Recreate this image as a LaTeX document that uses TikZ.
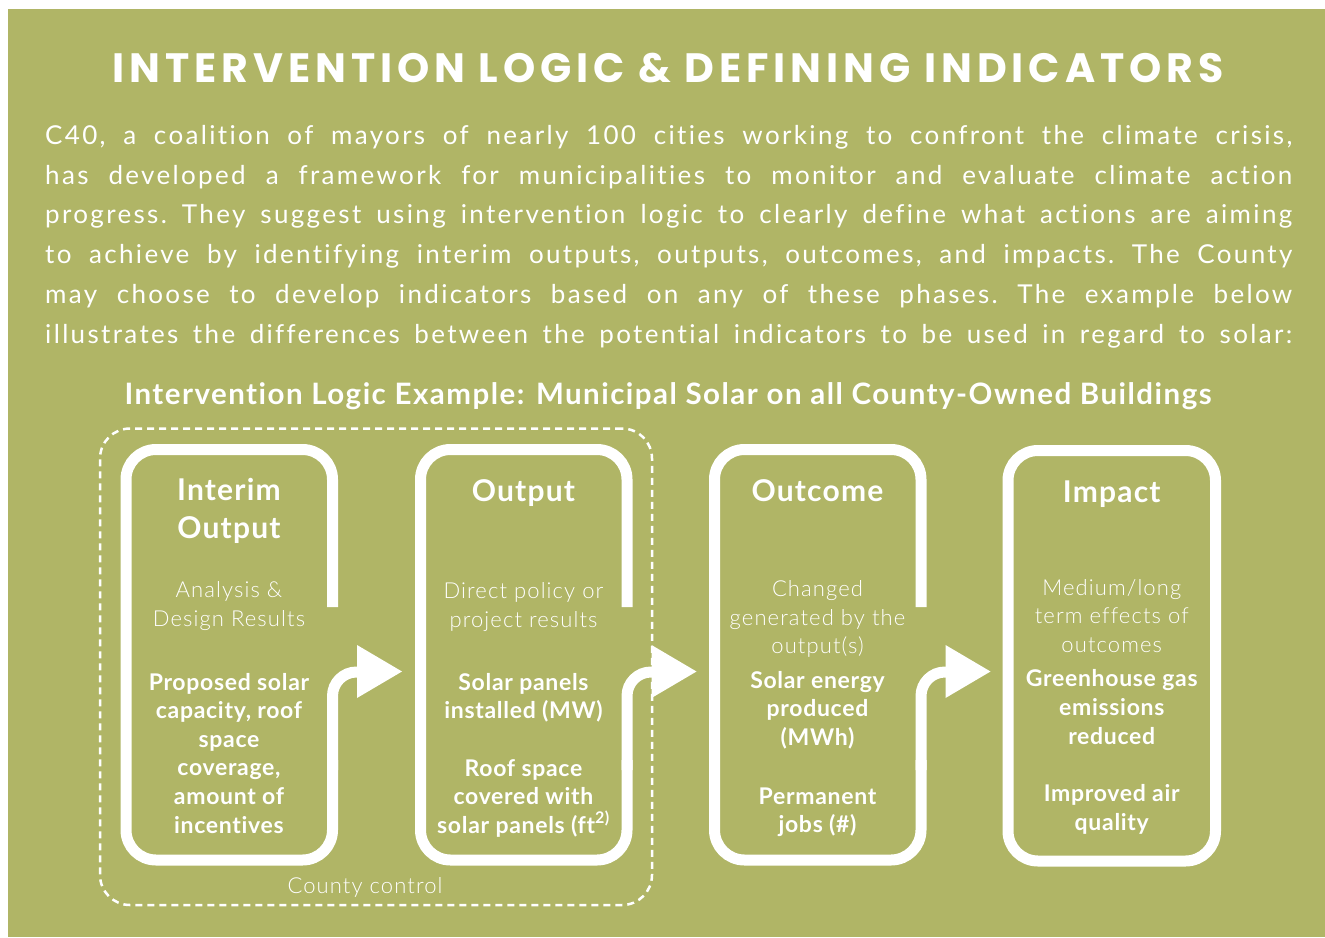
\documentclass[tikz,border=0pt]{standalone}
\usepackage{fontspec}
\setmainfont{Lato}[Ligatures=NoCommon]
\newfontfamily\lightfont{Lato Light}[LetterSpace=5,Ligatures=NoCommon]
\newfontfamily\titlefont{Poppins}[LetterSpace=12]
\newfontfamily\bodyfont{Lato}[LetterSpace=9,Ligatures=NoCommon]
\newfontfamily\subfont{Lato}[LetterSpace=5,Ligatures=NoCommon]
\newfontfamily\headfont{Lato}[LetterSpace=4,Ligatures=NoCommon]
\newfontfamily\bfont{Lato}[LetterSpace=3,Ligatures=NoCommon]
\definecolor{bggreen}{RGB}{176,181,102}
\tikzset{
  boxline/.style={draw=white, line width=11pt},
  bodyline/.style={anchor=base west, inner sep=0pt, text=white, font=\bodyfont\frenchspacing\fontsize{26}{30}\selectfont},
  boxhead/.style={anchor=base, inner sep=0pt, text=white, font=\headfont\bfseries\fontsize{30}{34}\selectfont},
  boxlight/.style={anchor=base, inner sep=0pt, text=white, font=\lightfont\fontsize{22}{25}\selectfont},
  boxbold/.style={anchor=base, inner sep=0pt, text=white, font=\bfont\bfseries\fontsize{23}{26}\selectfont},
}
\newcommand\tl[5]{\node[#4] (#1) at (#2,#3) {#5};}
\begin{document}
\begin{tikzpicture}[x=1pt,y=-1pt]
\useasboundingbox (0,0) rectangle (1325,937);
\fill[bggreen] (8,9) rectangle (1325,937);

% title
\node[anchor=base, inner sep=0pt, text=white, font=\titlefont\bfseries\fontsize{41}{48}\selectfont] (title) at (668,82) {INTERVENTION LOGIC \& DEFINING INDICATORS};

% paragraph
\tl{p1}{45}{144}{bodyline}{\makebox[1247pt][s]{C40, a coalition of mayors of nearly 100 cities working to confront the climate crisis,}}
\tl{p2}{45}{184}{bodyline}{\makebox[1247pt][s]{has developed a framework for municipalities to monitor and evaluate climate action}}
\tl{p3}{45}{223.5}{bodyline}{\makebox[1247pt][s]{progress. They suggest using intervention logic to clearly define what actions are aiming}}
\tl{p4}{45}{263}{bodyline}{\makebox[1247pt][s]{to achieve by identifying interim outputs, outputs, outcomes, and impacts. The County}}
\tl{p5}{45}{303}{bodyline}{\makebox[1247pt][s]{may choose to develop indicators based on any of these phases. The example below}}
\tl{p6}{45}{343}{bodyline}{\makebox[1247pt][s]{illustrates the differences between the potential indicators to be used in regard to solar:}}

% subtitle
\node[anchor=base, inner sep=0pt, text=white, font=\subfont\bfseries\fontsize{29.5}{34}\selectfont] (sub) at (668,404) {Intervention Logic Example: Municipal Solar on all County-Owned Buildings};

% dashed county-control frame
\node[draw=white, line width=2.5pt, dash pattern=on 7pt off 5pt, rounded corners=30pt, minimum width=552pt, minimum height=476.5pt, inner sep=0pt] (ctl) at (376,666.75) {};
\node[anchor=base, inner sep=0pt, text=white, font=\lightfont\fontsize{22}{25}\selectfont] (ctllabel) at (365,893) {County control};

% boxes 1-3 with open right side and arrow
\foreach \L [count=\i] in {126,420.5,714.5} {
  \pgfmathsetmacro\R{\L+206.5}
  \pgfmathsetmacro\A{\R+24.5}
  \pgfmathsetmacro\B{\R+69.5}
  \pgfmathsetmacro\C{\R+40}
  \coordinate (b\i ne) at (\R,449.5);
  \coordinate (b\i sw) at (\L,860);
  \draw[boxline, rounded corners=30pt] (\R,607) -- (b\i ne) -- (\L,449.5) -- (b\i sw) -- (\R,860) -- (\R,760);
  \draw[boxline, rounded corners=24pt] (\R,770) -- (\R,672) -- (\C,672);
  \fill[white] (\A,645) coordinate (a\i) -- (\B,671.5) coordinate (t\i) -- (\A,698) -- cycle;
}
% box 4 closed
\node[boxline, rounded corners=30pt, minimum width=207.5pt, minimum height=410.5pt, inner sep=0pt] (b4) at (1111.75,655.75) {};

% box 1 texts
\tl{h1a}{229}{500}{boxhead}{Interim}
\tl{h1b}{229}{538}{boxhead}{Output}
\tl{l1a}{229}{597}{boxlight}{Analysis \&}
\tl{l1b}{229}{626}{boxlight}{Design Results}
\tl{d1a}{229}{690}{boxbold}{Proposed solar}
\tl{d1b}{229}{718.6}{boxbold}{capacity, roof}
\tl{d1c}{229}{747.2}{boxbold}{space}
\tl{d1d}{229}{775.8}{boxbold}{coverage,}
\tl{d1e}{229}{804.4}{boxbold}{amount of}
\tl{d1f}{229}{833}{boxbold}{incentives}

% box 2 texts
\tl{h2}{523.5}{501}{boxhead}{Output}
\tl{l2a}{523.5}{598}{boxlight}{Direct policy or}
\tl{l2b}{523.5}{627}{boxlight}{project results}
\tl{d2a}{523.5}{690}{boxbold}{Solar panels}
\tl{d2b}{523.5}{718}{boxbold}{installed (MW)}
\tl{d2c}{523.5}{776}{boxbold}{Roof space}
\tl{d2d}{523.5}{804}{boxbold}{covered with}
\tl{d2e}{523.5}{833}{boxbold}{solar panels (ft\textsuperscript{2)}}

% box 3 texts
\tl{h3}{817.5}{501}{boxhead}{Outcome}
\tl{l3a}{817.5}{596}{boxlight}{Changed}
\tl{l3b}{817.5}{625}{boxlight}{generated by the}
\tl{l3c}{817.5}{653}{boxlight}{output(s)}
\tl{d3a}{817.5}{688}{boxbold}{Solar energy}
\tl{d3b}{817.5}{716}{boxbold}{produced}
\tl{d3c}{817.5}{745}{boxbold}{(MWh)}
\tl{d3d}{817.5}{804}{boxbold}{Permanent}
\tl{d3e}{817.5}{832}{boxbold}{jobs (\#)}

% box 4 texts
\tl{h4}{1111.75}{502}{boxhead}{Impact}
\tl{l4a}{1111.75}{595}{boxlight}{Medium/long}
\tl{l4b}{1111.75}{623}{boxlight}{term effects of}
\tl{l4c}{1111.75}{652}{boxlight}{outcomes}
\tl{d4a}{1111.75}{686}{boxbold}{Greenhouse gas}
\tl{d4b}{1111.75}{715}{boxbold}{emissions}
\tl{d4c}{1111.75}{744}{boxbold}{reduced}
\tl{d4d}{1111.75}{801}{boxbold}{Improved air}
\tl{d4e}{1111.75}{830}{boxbold}{quality}
\end{tikzpicture}
\end{document}
